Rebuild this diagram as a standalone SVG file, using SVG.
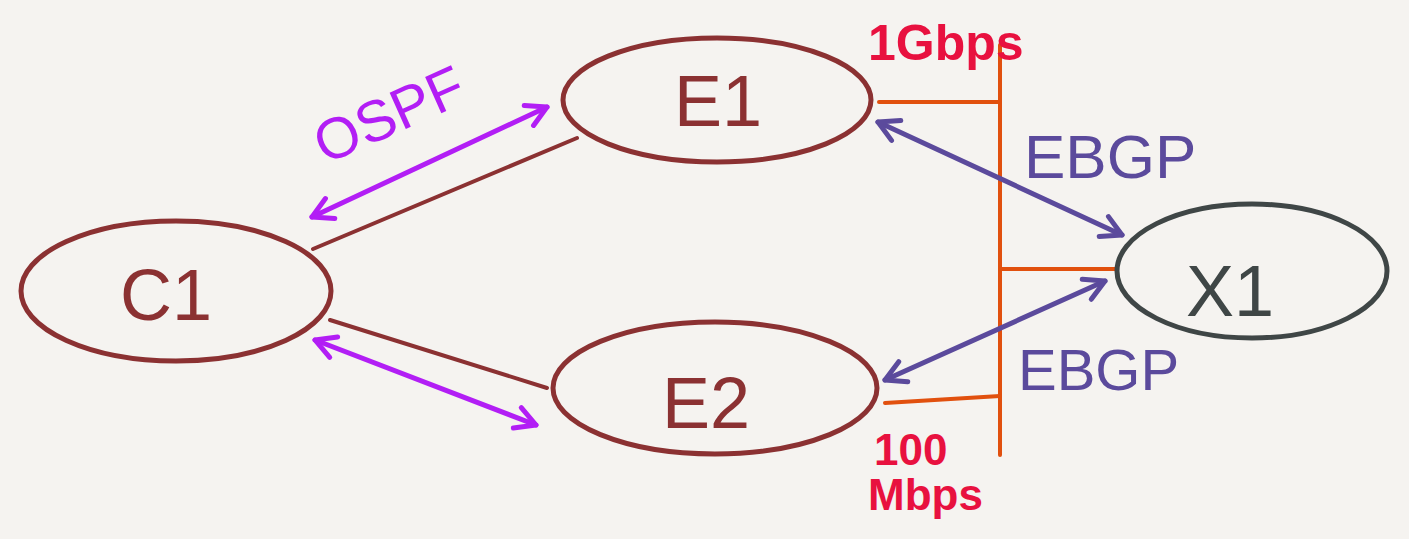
<svg xmlns="http://www.w3.org/2000/svg" width="1409" height="539" viewBox="0 0 1409 539">
<style>
.bg{fill:#f5f3f0}
.node{fill:none;stroke:#8b3132;stroke-width:5}
.nodex{fill:none;stroke:#3f4646;stroke-width:5}
.lbl{font-family:"Liberation Sans",Arial,sans-serif;font-size:72px;fill:#8b3132;text-anchor:middle}
.lblx{fill:#3f4646}
.link{stroke:#8b3132;stroke-width:4;stroke-linecap:round;fill:none}
.ospf{stroke:#b21ef5;stroke-width:5;stroke-linecap:round;fill:none}
.ebgp{stroke:#5b4a9c;stroke-width:5;stroke-linecap:round;fill:none}
.bus{stroke:#e1500e;stroke-width:4;stroke-linecap:round;fill:none}
.t-ospf{font-family:"Liberation Sans",Arial,sans-serif;font-size:58px;fill:#b21ef5}
.t-ebgp{font-family:"Liberation Sans",Arial,sans-serif;fill:#5b4a9c}
.t-speed{font-family:"Liberation Sans",Arial,sans-serif;fill:#e8113f;font-weight:bold}
</style>
<defs>
<marker id="ao" viewBox="0 0 28 28" refX="25" refY="14" markerWidth="28" markerHeight="28" markerUnits="userSpaceOnUse" orient="auto-start-reverse">
<path d="M5 3 L25 14 L5 25" fill="none" stroke="#b21ef5" stroke-width="5" stroke-linecap="round" stroke-linejoin="round"/>
</marker>
<marker id="ae" viewBox="0 0 28 28" refX="25" refY="14" markerWidth="28" markerHeight="28" markerUnits="userSpaceOnUse" orient="auto-start-reverse">
<path d="M5 3 L25 14 L5 25" fill="none" stroke="#5b4a9c" stroke-width="5" stroke-linecap="round" stroke-linejoin="round"/>
</marker>
</defs>
<rect class="bg" x="0" y="0" width="1409" height="539"/>
<g id="connectors">
<line class="link" x1="313" y1="249" x2="577" y2="138"/>
<line class="link" x1="330" y1="320" x2="547" y2="388"/>
<line class="ospf" x1="312" y1="217" x2="547" y2="107" marker-start="url(#ao)" marker-end="url(#ao)"/>
<line class="ospf" x1="315" y1="340" x2="536" y2="425" marker-start="url(#ao)" marker-end="url(#ao)"/>
<line class="bus" x1="1000" y1="45" x2="1000" y2="455"/>
<line class="bus" x1="879" y1="102" x2="1000" y2="102"/>
<line class="bus" x1="1000" y1="269" x2="1117" y2="269"/>
<line class="bus" x1="885" y1="403" x2="1000" y2="396"/>
<line class="ebgp" x1="878" y1="122" x2="1122" y2="235" marker-start="url(#ae)" marker-end="url(#ae)"/>
<line class="ebgp" x1="885" y1="380" x2="1105" y2="281" marker-start="url(#ae)" marker-end="url(#ae)"/>
</g>
<g id="labels">
<text class="t-ospf" transform="translate(325,165) rotate(-24)">OSPF</text>
<text class="t-speed" x="868" y="60" font-size="50">1Gbps</text>
<text class="t-ebgp" x="1024" y="178" font-size="62">EBGP</text>
<text class="t-ebgp" x="1018" y="390" font-size="58">EBGP</text>
<text class="t-speed" font-size="44"><tspan x="874" y="465">100</tspan><tspan x="868" y="510">Mbps</tspan></text>
</g>
<g id="C1">
<ellipse class="node" cx="176" cy="291" rx="155" ry="70"/>
<text class="lbl" x="166" y="320">C1</text>
</g>
<g id="E1">
<ellipse class="node" cx="717" cy="100" rx="154" ry="62"/>
<text class="lbl" x="718" y="126">E1</text>
</g>
<g id="E2">
<ellipse class="node" cx="715" cy="388" rx="162" ry="66"/>
<text class="lbl" x="706" y="428">E2</text>
</g>
<g id="X1">
<ellipse class="nodex" cx="1252" cy="271" rx="135" ry="67"/>
<text class="lbl lblx" x="1230" y="316">X1</text>
</g>
</svg>
